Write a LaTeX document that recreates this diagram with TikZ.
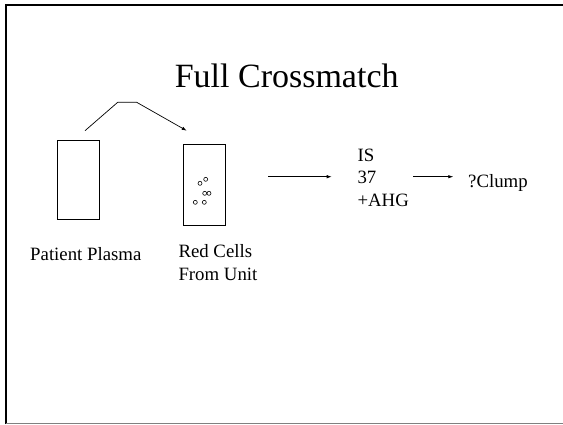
\documentclass[tikz,border=0pt]{standalone}
\usepackage{fontspec}
\setmainfont{Liberation Serif}
\usetikzlibrary{arrows.meta}
\tikzset{
  lbl/.style={inner sep=0pt, font=\fontsize{18.8}{22.8}\selectfont, align=left},
  tube/.style={draw, line width=0.9pt, inner sep=0pt},
  cell/.style={draw, line width=0.6pt},
  flow/.style={-{Latex[length=5pt,width=3.5pt]}, line width=0.7pt}
}
\begin{document}
\begin{tikzpicture}[x=1pt,y=-1pt]
      \useasboundingbox (0,0) rectangle (563,424);
      % slide frame
      \draw[line width=2pt] (6,424) -- (6,5) -- (563,5);
      \draw[gray, line width=1pt] (6,423.5) -- (563,423.5);
      \node[anchor=base, inner sep=0pt, font=\fontsize{34}{40}\selectfont] (title) at (286.7,87.3) {Full Crossmatch};
      \node[tube, minimum width=42pt, minimum height=79pt] (plasma) at (78,179.5) {};
      \node[tube, minimum width=42pt, minimum height=81pt] (cells) at (204.3,184.5) {};
      \foreach \cx/\cy in {205.7/179.3, 200/183.3, 204.7/193.3, 209/193.3, 195.3/202.3, 204.3/202.3}
        \draw[cell] (\cx,\cy) circle (2pt);
      % base = baseline of the last line
      \node[lbl, anchor=base west] (pp) at (30,260) {Patient Plasma};
      \node[lbl, anchor=base west] (rc) at (178.3,280) {Red Cells\\From Unit};
      \node[lbl, anchor=base west] (tests) at (357.3,206.7) {IS\\37\\+AHG};
      \node[lbl, anchor=base west] (clump) at (468,187) {?Clump};
      \coordinate (mix0) at (85,130.7);
      \coordinate (mix1) at (117.7,102.3);
      \coordinate (mix2) at (136.7,102.3);
      \coordinate (mix3) at (186.7,130.7);
      \coordinate (a) at (268.3,176.7);
      \coordinate (b) at (331.7,176.7);
      \coordinate (c) at (413.3,176.7);
      \coordinate (d) at (453.3,176.7);
      \begin{scope}[flow]
        \draw (mix0) -- (mix1) -- (mix2) -- (mix3);
        \draw (a) -- (b);
        \draw (c) -- (d);
      \end{scope}
    \end{tikzpicture}
\end{document}
